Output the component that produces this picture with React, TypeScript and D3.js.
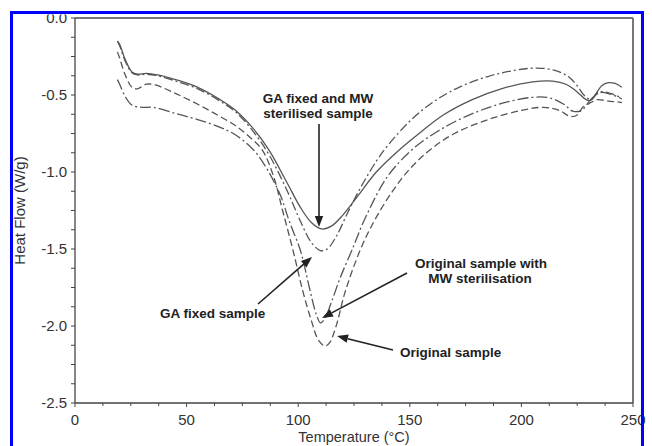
import React from "react";
import * as d3 from "d3";

type Pt = [number, number];

// Series: temperature (°C), heat flow (W/g)
const gaFixedMwSterilised: Pt[] = [
  [19, -0.15], [20, -0.17], [22.5, -0.27], [25.5, -0.35], [28, -0.365], [32, -0.36], [37, -0.37],
  [45, -0.40], [55, -0.45], [65, -0.53], [72, -0.6], [80, -0.72], [87, -0.86], [95, -1.07],
  [101, -1.23], [106, -1.33], [110.5, -1.37], [115, -1.35], [120, -1.28], [127, -1.15],
  [135, -1.0], [145, -0.86], [155, -0.74], [165, -0.63], [178, -0.53], [192, -0.455],
  [205, -0.415], [214, -0.41], [220, -0.43], [225, -0.48], [229, -0.53], [231, -0.535],
  [233, -0.5], [236, -0.44], [239, -0.42], [242, -0.425], [245, -0.45],
];

const gaFixed: Pt[] = [
  [19, -0.15], [20, -0.18], [22.5, -0.28], [25.5, -0.355], [28, -0.37], [32, -0.365], [37, -0.375],
  [45, -0.41], [55, -0.46], [65, -0.54], [72, -0.61], [80, -0.74], [87, -0.89], [95, -1.12],
  [101, -1.32], [106, -1.46], [110, -1.51], [113, -1.5], [117, -1.42], [122, -1.27],
  [128, -1.1], [135, -0.93], [140, -0.83], [150, -0.67], [160, -0.55], [172, -0.45],
  [185, -0.38], [197, -0.34], [207, -0.325], [215, -0.34], [221, -0.38], [225, -0.44],
  [228, -0.5], [231, -0.53], [235, -0.48], [240, -0.49], [245, -0.52],
];

const originalMw: Pt[] = [
  [19, -0.4], [20, -0.43], [22.5, -0.51], [25.5, -0.565], [30, -0.58], [35, -0.58], [45, -0.62],
  [55, -0.66], [65, -0.71], [72, -0.76], [80, -0.857], [86, -0.98], [92, -1.15], [96, -1.32],
  [101, -1.51], [105, -1.75], [108, -1.92], [110, -1.98], [112, -1.95], [115, -1.84],
  [119, -1.68], [124, -1.51], [130, -1.3], [140, -1.03], [151, -0.855], [162, -0.74],
  [175, -0.64], [190, -0.56], [205, -0.515], [213, -0.52], [219, -0.56], [223, -0.605],
  [227, -0.6], [231, -0.53], [235, -0.485], [240, -0.495], [245, -0.525],
];

const original: Pt[] = [
  [19, -0.22], [20, -0.26], [22.5, -0.37], [25.5, -0.45], [28, -0.46], [32, -0.43], [36, -0.435],
  [45, -0.49], [55, -0.56], [65, -0.64], [72, -0.7], [78, -0.77], [84, -0.86], [89, -1.03],
  [93, -1.25], [97.7, -1.51], [102, -1.77], [106, -1.97], [109, -2.09], [112, -2.13],
  [114, -2.11], [117, -2.0], [121, -1.78], [127.7, -1.51], [134, -1.32], [142, -1.13],
  [150, -0.98], [159, -0.857], [170, -0.75], [185, -0.66], [200, -0.6], [210, -0.58],
  [217, -0.6], [222, -0.64], [225, -0.63], [227.5, -0.58], [231, -0.55], [234, -0.53],
  [239, -0.54], [243, -0.545], [245, -0.55],
];

const xTicks = [0, 50, 100, 150, 200, 250];
const yTicks = [0, -0.5, -1.0, -1.5, -2.0, -2.5];

const W = 652;
const H = 446;
const L = 75, R = 633, T = 18, B = 403;

export default function App() {
  const x = d3.scaleLinear().domain([0, 250]).range([L, R]);
  const y = d3.scaleLinear().domain([-2.5, 0]).range([B, T]);
  const line = d3
    .line<Pt>()
    .x((d) => x(d[0]))
    .y((d) => y(d[1]))
    .curve(d3.curveCatmullRom.alpha(0.5));

  const series: { data: Pt[]; dash: string | undefined }[] = [
    { data: original, dash: "7,3.5" },
    { data: originalMw, dash: "11,3,2,3" },
    { data: gaFixed, dash: "9,3,2,3" },
    { data: gaFixedMwSterilised, dash: undefined },
  ];

  const xMinor = d3.range(0, 250.01, 12.5);
  const yMinor = d3.range(-2.5, 0.001, 0.125);

  const font = "Liberation Sans, Arial, Helvetica, sans-serif";
  const annot = { fontFamily: font, fontSize: 13.5, fontWeight: 700, fill: "#222" } as const;

  const arrow = (x1: number, y1: number, x2: number, y2: number, key: string) => {
    const ang = Math.atan2(y2 - y1, x2 - x1);
    const len = 11, half = 4.2;
    const bx = x2 - len * Math.cos(ang);
    const by = y2 - len * Math.sin(ang);
    const px = -Math.sin(ang) * half, py = Math.cos(ang) * half;
    return (
      <g key={key}>
        <line x1={x1} y1={y1} x2={bx} y2={by} stroke="#222" strokeWidth={1.6} />
        <polygon points={`${x2},${y2} ${bx + px},${by + py} ${bx - px},${by - py}`} fill="#222" />
      </g>
    );
  };

  return (
    <svg width={W} height={H} style={{ position: "absolute", left: 0, top: 0, background: "#fff" }}>
      <rect x={0} y={0} width={W} height={H} fill="#fff" />
      {/* frame */}
      <line x1={L} y1={T} x2={R} y2={T} stroke="#777" strokeWidth={2} />
      <line x1={R} y1={T} x2={R} y2={B} stroke="#777" strokeWidth={2} />
      <line x1={L} y1={T} x2={L} y2={B} stroke="#444" strokeWidth={1.3} />
      <line x1={L} y1={B} x2={R} y2={B} stroke="#444" strokeWidth={1.3} />
      {/* ticks */}
      {xMinor.map((v) => (
        <line key={"xm" + v} x1={x(v)} x2={x(v)} y1={B} y2={B + (v % 50 === 0 ? 4 : 3)} stroke="#444" strokeWidth={1} />
      ))}
      {yMinor.map((v) => (
        <line key={"ym" + v} x1={L - 4} x2={L} y1={y(v)} y2={y(v)} stroke="#444" strokeWidth={1} />
      ))}
      {xTicks.map((v) => (
        <text key={"xt" + v} x={x(v)} y={425} textAnchor="middle" fontFamily={font} fontSize={15} fill="#333">
          {v}
        </text>
      ))}
      {yTicks.map((v) => (
        <text key={"yt" + v} x={67} y={y(v)} dy="0.36em" textAnchor="end" fontFamily={font} fontSize={15} fill="#333">
          {v.toFixed(1)}
        </text>
      ))}
      <text x={(L + R) / 2} y={442} textAnchor="middle" fontFamily={font} fontSize={14.5} fill="#333">
        Temperature (°C)
      </text>
      <text
        transform={`translate(25, ${(T + B) / 2}) rotate(-90)`}
        textAnchor="middle"
        fontFamily={font}
        fontSize={15}
        fill="#333"
      >
        Heat Flow (W/g)
      </text>
      {/* curves */}
      {series.map((s, i) => (
        <path
          key={"s" + i}
          d={line(s.data) || ""}
          fill="none"
          stroke="#555"
          strokeWidth={1.3}
          strokeDasharray={s.dash}
        />
      ))}
      {/* annotations */}
      <text x={318} y={103} textAnchor="middle" {...annot}>GA fixed and MW</text>
      <text x={318} y={118} textAnchor="middle" {...annot}>sterilised sample</text>
      {arrow(319, 124, 319, 227, "a1")}
      <text x={160} y={318} {...annot}>GA fixed sample</text>
      {arrow(258, 304, 312, 257, "a2")}
      <text x={481} y={268} textAnchor="middle" {...annot}>Original sample with</text>
      <text x={480} y={283} textAnchor="middle" {...annot}>MW sterilisation</text>
      {arrow(407, 273, 322, 318, "a3")}
      <text x={400} y={357} {...annot}>Original sample</text>
      {arrow(393, 350, 337, 336, "a4")}
      {/* outer crop + blue border */}
      <rect x={0} y={0} width={W} height={14.5} fill="#fff" />
      <rect x={11.5} y={12.5} width={631} height={500} fill="none" stroke="#0000ff" strokeWidth={3} />
    </svg>
  );
}
